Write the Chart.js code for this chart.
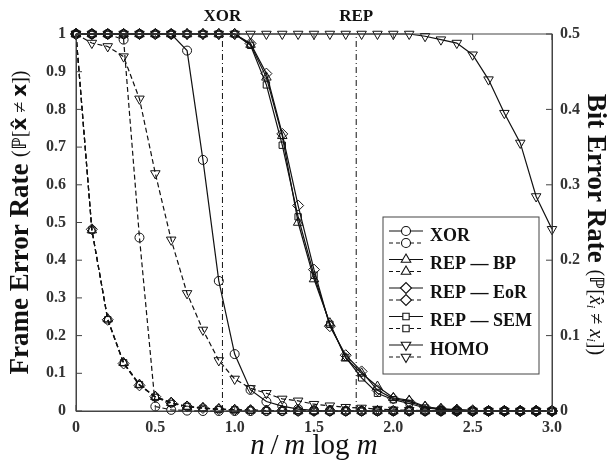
<!DOCTYPE html>
<html>
<head>
<meta charset="utf-8">
<script src="https://cdn.jsdelivr.net/npm/chart.js@4.4.0/dist/chart.umd.min.js"></script>
<style>
  body { margin: 0; background: #fff; }
  #wrap { width: 610px; height: 468px; }
</style>
</head>
<body>
<div id="wrap"><canvas id="myChart" width="610" height="468"></canvas></div>
<script>
'use strict'

// n / (m log m)
const xs = [0, 0.1, 0.2, 0.3, 0.4, 0.5, 0.6, 0.7, 0.8, 0.9, 1.0,
  1.1, 1.2, 1.3, 1.4, 1.5, 1.6, 1.7, 1.8, 1.9, 2.0,
  2.1, 2.2, 2.3, 2.4, 2.5, 2.6, 2.7, 2.8, 2.9, 3.0]

// frame error rate (solid, left axis)
const xorFer = [1, 1, 1, 1, 1, 1, 1, 0.956, 0.666, 0.345, 0.151,
  0.056, 0.025, 0.013, 0.005, 0.002, 0, 0, 0, 0, 0,
  0, 0, 0, 0, 0, 0, 0, 0, 0, 0]
const repBpFer = [1, 1, 1, 1, 1, 1, 1, 1, 1, 1, 1,
  0.972, 0.885, 0.73, 0.50, 0.35, 0.233, 0.14, 0.10, 0.065, 0.035,
  0.028, 0.012, 0.006, 0.004, 0.002, 0, 0, 0, 0, 0]
const repEorFer = [1, 1, 1, 1, 1, 1, 1, 1, 1, 1, 1,
  0.975, 0.895, 0.735, 0.545, 0.375, 0.225, 0.148, 0.105, 0.055, 0.033,
  0.025, 0.010, 0.005, 0.003, 0.001, 0, 0, 0, 0, 0]
const repSemFer = [1, 1, 1, 1, 1, 1, 1, 1, 1, 1, 1,
  0.97, 0.865, 0.705, 0.515, 0.36, 0.23, 0.142, 0.088, 0.047, 0.03,
  0.02, 0.008, 0.004, 0.002, 0.001, 0, 0, 0, 0, 0]
const homoFer = [1, 1, 1, 1, 1, 1, 1, 1, 1, 1, 1,
  1, 1, 1, 1, 1, 1, 1, 1, 1, 1,
  1, 0.994, 0.985, 0.976, 0.945, 0.879, 0.79, 0.711, 0.569, 0.482]

// bit error rate (dashed, right axis)
const xorBer = [0.5, 0.5, 0.5, 0.4925, 0.23, 0.006, 0.0015, 0.0005, 0, 0, 0,
  0, 0, 0, 0, 0, 0, 0, 0, 0, 0,
  0, 0, 0, 0, 0, 0, 0, 0, 0, 0]
const repBpBer = [0.5, 0.24, 0.122, 0.064, 0.035, 0.019, 0.011, 0.006, 0.004, 0.0025, 0.0015,
  0.001, 0.0005, 0.0005, 0, 0, 0, 0, 0, 0, 0,
  0, 0, 0, 0, 0, 0, 0, 0, 0, 0]
const repEorBer = [0.5, 0.241, 0.121, 0.063, 0.034, 0.019, 0.011, 0.006, 0.004, 0.0025, 0.0015,
  0.001, 0.0005, 0.0005, 0, 0, 0, 0, 0, 0, 0,
  0, 0, 0, 0, 0, 0, 0, 0, 0, 0]
const repSemBer = [0.5, 0.24, 0.121, 0.064, 0.035, 0.018, 0.01, 0.006, 0.0035, 0.002, 0.0015,
  0.001, 0.0005, 0.0005, 0, 0, 0, 0, 0, 0, 0,
  0, 0, 0, 0, 0, 0, 0, 0, 0, 0]
const homoBer = [0.5, 0.488, 0.4835, 0.47, 0.414, 0.315, 0.227, 0.156, 0.1075, 0.067, 0.0425,
  0.03, 0.0235, 0.016, 0.0135, 0.009, 0.007, 0.005, 0.004, 0.0025, 0.0015,
  0.001, 0.0005, 0.0005, 0, 0, 0, 0, 0, 0, 0]

// thresholds marked with dash-dot lines
const thresholdX = [0.923, 1.766]
const thresholdNames = ['XOR', 'REP']

const seriesNames = ['XOR', 'REP — BP', 'REP — EoR', 'REP — SEM', 'HOMO']
const xTickLabels = ['0', '0.5', '1.0', '1.5', '2.0', '2.5', '3.0']
const yTickLabels = ['0', '0.1', '0.2', '0.3', '0.4', '0.5', '0.6', '0.7', '0.8', '0.9', '1']
const y1TickLabels = ['0', '0.1', '0.2', '0.3', '0.4', '0.5']

const SERIF = '"Liberation Serif", "Times New Roman", serif'
const INK = '#111'

const markers = [
  { pointStyle: 'circle', radius: 4.5, rotation: 0 },
  { pointStyle: 'triangle', radius: 5.5, rotation: 0 },
  { pointStyle: 'rectRot', radius: 5.5, rotation: 0 },
  { pointStyle: 'rect', radius: 4.5, rotation: 0 },
  { pointStyle: 'triangle', radius: 5.5, rotation: 180 },
]

const toPoints = (ys) => ys.map((y, i) => ({ x: xs[i], y: y }))

const makeSet = (ys, idx, dashed) => ({
  label: seriesNames[idx] + (dashed ? ' (BER)' : ''),
  data: toPoints(ys),
  yAxisID: dashed ? 'y1' : 'y',
  borderColor: INK,
  borderWidth: 1.2,
  borderDash: dashed ? [5, 3] : [],
  backgroundColor: 'rgba(0,0,0,0)',
  pointStyle: markers[idx].pointStyle,
  pointRadius: markers[idx].radius,
  pointRotation: markers[idx].rotation,
  pointBorderColor: INK,
  pointBorderWidth: 1,
  pointBackgroundColor: 'rgba(0,0,0,0)',
  tension: 0,
  clip: false,
})

const ferSets = [xorFer, repBpFer, repEorFer, repSemFer, homoFer]
const berSets = [xorBer, repBpBer, repEorBer, repSemBer, homoBer]

const datasets = []
ferSets.forEach((ys, i) => datasets.push(makeSet(ys, i, false)))
berSets.forEach((ys, i) => datasets.push(makeSet(ys, i, true)))

thresholdX.forEach((tx, i) => {
  datasets.push({
    label: thresholdNames[i] + ' threshold',
    data: [{ x: tx, y: 0 }, { x: tx, y: 1 }],
    yAxisID: 'y',
    borderColor: INK,
    borderWidth: 1,
    borderDash: [6, 3, 1, 3],
    pointRadius: 0,
    clip: false,
  })
})

// draws a run of text pieces with mixed fonts, centered on (cx, cy)
const drawPieces = (ctx, pieces, cx, cy, angle) => {
  ctx.save()
  ctx.translate(cx, cy)
  ctx.rotate(angle)
  ctx.textBaseline = 'middle'
  ctx.textAlign = 'left'
  ctx.fillStyle = INK
  let total = 0
  pieces.forEach((p) => { ctx.font = p[1]; total += ctx.measureText(p[0]).width })
  let x = -total / 2
  pieces.forEach((p) => {
    ctx.font = p[1]
    ctx.fillText(p[0], x, p[2] || 0)
    x += ctx.measureText(p[0]).width
  })
  ctx.restore()
}

const decorPlugin = {
  id: 'decor',
  afterDraw(chart) {
    const ctx = chart.ctx
    const area = chart.chartArea
    const sx = chart.scales.x
    const sy = chart.scales.y
    const sy1 = chart.scales.y1

    ctx.save()
    ctx.strokeStyle = '#444'
    ctx.lineWidth = 1
    // box
    ctx.strokeRect(area.left, area.top, area.right - area.left, area.bottom - area.top)
    // inward ticks
    ctx.beginPath()
    sx.ticks.forEach((t) => {
      const px = sx.getPixelForValue(t.value)
      ctx.moveTo(px, area.bottom); ctx.lineTo(px, area.bottom - 6)
      ctx.moveTo(px, area.top); ctx.lineTo(px, area.top + 6)
    })
    sy.ticks.forEach((t) => {
      const py = sy.getPixelForValue(t.value)
      ctx.moveTo(area.left, py); ctx.lineTo(area.left + 6, py)
    })
    sy1.ticks.forEach((t) => {
      const py = sy1.getPixelForValue(t.value)
      ctx.moveTo(area.right, py); ctx.lineTo(area.right - 6, py)
    })
    ctx.stroke()
    ctx.restore()

    // threshold names above the plot
    ctx.save()
    ctx.fillStyle = INK
    ctx.font = 'bold 17px ' + SERIF
    ctx.textAlign = 'center'
    ctx.textBaseline = 'middle'
    thresholdX.forEach((tx, i) => {
      ctx.fillText(thresholdNames[i], sx.getPixelForValue(tx), 17)
    })
    ctx.restore()

    // axis titles
    drawPieces(ctx, [
      ['Frame Error Rate ', 'bold 27px ' + SERIF],
      ['(ℙ[', '20px ' + SERIF],
      ['x\u0302', 'bold 20px "DejaVu Sans"'],
      [' ≠ ', '20px ' + SERIF],
      ['x', 'bold 20px "DejaVu Sans"'],
      ['])', '20px ' + SERIF],
    ], 21, (area.top + area.bottom) / 2, -Math.PI / 2)

    drawPieces(ctx, [
      ['Bit Error Rate ', 'bold 27px ' + SERIF],
      ['(ℙ[', '20px ' + SERIF],
      ['x\u0302', 'italic 20px ' + SERIF],
      ['i', 'italic 13px ' + SERIF, 5],
      [' ≠ ', '20px ' + SERIF],
      ['x', 'italic 20px ' + SERIF],
      ['i', 'italic 13px ' + SERIF, 5],
      ['])', '20px ' + SERIF],
    ], 595, (area.top + area.bottom) / 2 + 2, Math.PI / 2)

    drawPieces(ctx, [
      ['n', 'italic 29px ' + SERIF],
      ['\u2009/\u2009', '29px ' + SERIF],
      ['m', 'italic 29px ' + SERIF],
      [' log ', '29px ' + SERIF],
      ['m', 'italic 29px ' + SERIF],
    ], (area.left + area.right) / 2, 446, 0)

    // legend: a solid and a dashed sample per method
    const box = { left: 383, top: 217, right: 539, bottom: 374 }
    ctx.save()
    ctx.fillStyle = '#fff'
    ctx.fillRect(box.left, box.top, box.right - box.left, box.bottom - box.top)
    ctx.strokeStyle = '#444'
    ctx.lineWidth = 1
    ctx.strokeRect(box.left, box.top, box.right - box.left, box.bottom - box.top)
    seriesNames.forEach((name, i) => {
      const yc = 236 + i * 28.5
      const rows = [[yc - 5, []], [yc + 7, [4, 3]]]
      rows.forEach((r) => {
        ctx.strokeStyle = INK
        ctx.lineWidth = 1.1
        ctx.setLineDash(r[1])
        ctx.beginPath()
        ctx.moveTo(389, r[0]); ctx.lineTo(423, r[0])
        ctx.stroke()
        ctx.setLineDash([])
        ctx.fillStyle = '#fff'
        Chart.helpers.drawPoint(ctx, {
          pointStyle: markers[i].pointStyle,
          radius: markers[i].radius,
          rotation: markers[i].rotation,
          borderWidth: 1,
        }, 406, r[0])
      })
      ctx.fillStyle = INK
      ctx.font = 'bold 18px ' + SERIF
      ctx.textAlign = 'left'
      ctx.textBaseline = 'middle'
      ctx.fillText(name, 430, yc)
    })
    ctx.restore()
  }
}

const tickFont = { family: SERIF, size: 16, weight: 'bold' }

new Chart(document.getElementById('myChart'), {
  type: 'line',
  data: { datasets: datasets },
  plugins: [decorPlugin],
  options: {
    responsive: false,
    animation: false,
    layout: { padding: { top: 34, left: 0, right: 0, bottom: 0 } },
    plugins: { legend: { display: false }, tooltip: { enabled: false } },
    scales: {
      x: {
        type: 'linear',
        min: 0,
        max: 3,
        afterFit: (s) => { s.height = 57 },
        afterBuildTicks: (s) => { s.ticks = xTickLabels.map((l) => ({ value: parseFloat(l) })) },
        ticks: {
          font: tickFont,
          color: '#333',
          padding: 7,
          maxRotation: 0,
          callback: (v, i) => xTickLabels[i],
        },
        grid: { display: true, drawOnChartArea: false, drawTicks: false },
        border: { color: '#444', width: 1 },
      },
      y: {
        position: 'left',
        min: 0,
        max: 1,
        afterFit: (s) => { s.width = 76 },
        afterBuildTicks: (s) => { s.ticks = yTickLabels.map((l) => ({ value: parseFloat(l) })) },
        ticks: {
          font: tickFont,
          color: '#333',
          padding: 10,
          callback: (v, i) => yTickLabels[i],
        },
        grid: { display: true, drawOnChartArea: false, drawTicks: false },
        border: { color: '#444', width: 1 },
      },
      y1: {
        position: 'right',
        min: 0,
        max: 0.5,
        afterFit: (s) => { s.width = 58 },
        afterBuildTicks: (s) => { s.ticks = y1TickLabels.map((l) => ({ value: parseFloat(l) })) },
        ticks: {
          font: tickFont,
          color: '#333',
          padding: 8,
          callback: (v, i) => y1TickLabels[i],
        },
        grid: { display: true, drawOnChartArea: false, drawTicks: false },
        border: { color: '#444', width: 1 },
      },
    },
  },
})
</script>
</body>
</html>
